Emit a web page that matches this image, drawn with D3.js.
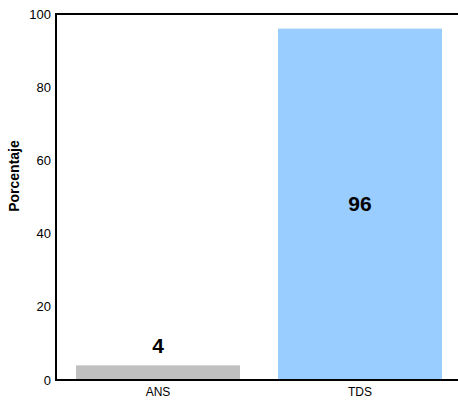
<!DOCTYPE html>
<html><head><meta charset="utf-8">
<script src="https://cdn.jsdelivr.net/npm/d3@7"></script>
<style>body{margin:0;background:#fff}text{font-family:"Liberation Sans",Arial,sans-serif}</style>
</head><body>
<svg id="c" width="458" height="400"></svg>
<script>
const categories = ["ANS", "TDS"];
const values = [4, 96];
const colors = ["#c0c0c0", "#99ccff"];
const yTicks = [0, 20, 40, 60, 80, 100];
const yTitle = "Porcentaje";

(function () {
const svg = d3.select("#c");
const mL = 56, mR = 458, mT = 14, mB = 380;
const x = d3.scaleBand().domain(categories).range([57, 461]).paddingInner(0.188).paddingOuter(0.094);
const y = d3.scaleLinear().domain([0, 100]).range([mB, mT]);

svg.selectAll("rect.bar").data(values).enter().append("rect")
  .attr("x", (d, i) => x(categories[i]))
  .attr("y", d => y(d))
  .attr("width", x.bandwidth())
  .attr("height", d => y(0) - y(d))
  .attr("fill", (d, i) => colors[i]);

svg.selectAll("text.val").data(values).enter().append("text")
  .attr("x", (d, i) => x(categories[i]) + x.bandwidth() / 2)
  .attr("y", d => d > 20 ? (y(d) + y(0)) / 2 + 7 : y(d) - 12)
  .attr("text-anchor", "middle")
  .attr("font-size", 21).attr("font-weight", "bold")
  .text(d => d);

svg.append("line").attr("x1", mL).attr("x2", mR).attr("y1", mT).attr("y2", mT).attr("stroke", "#000").attr("stroke-width", 2);
svg.append("line").attr("x1", mL).attr("x2", mL).attr("y1", mT - 1).attr("y2", mB + 1).attr("stroke", "#000").attr("stroke-width", 2);
svg.append("line").attr("x1", mL).attr("x2", mR).attr("y1", mB).attr("y2", mB).attr("stroke", "#000").attr("stroke-width", 2);

svg.selectAll("text.yt").data(yTicks).enter().append("text")
  .attr("x", 51).attr("y", d => y(d) + 4.5)
  .attr("text-anchor", "end").attr("font-size", 13)
  .text(d => d);

svg.selectAll("text.xt").data(categories).enter().append("text")
  .attr("x", d => x(d) + x.bandwidth() / 2).attr("y", 396)
  .attr("text-anchor", "middle").attr("font-size", 12)
  .text(d => d);

svg.append("text").attr("transform", "translate(19,176) rotate(-90)")
  .attr("text-anchor", "middle").attr("font-size", 14).attr("font-weight", "bold")
  .text(yTitle);
})();
</script>
</body></html>
